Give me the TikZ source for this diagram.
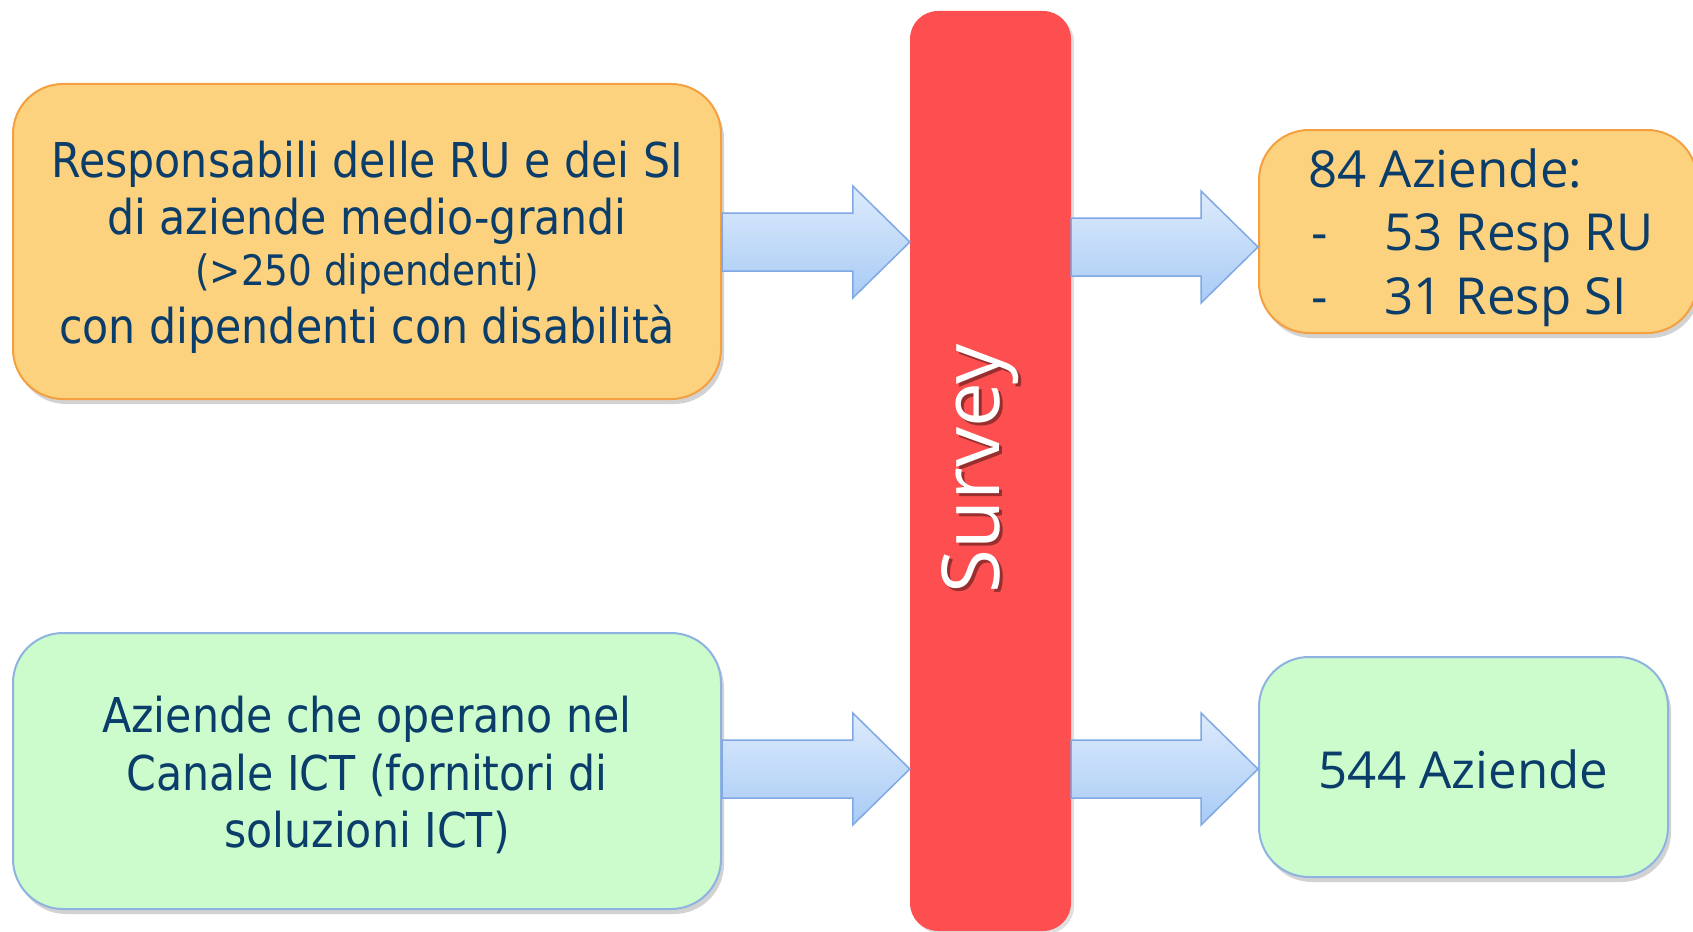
\documentclass[tikz,border=0pt]{standalone}
\usepackage{fontspec}
\usetikzlibrary{calc,shadows}
\newfontfamily\leftfont[FakeStretch=0.89]{DejaVu Sans}
\newfontfamily\rightfont{Open Sans}
\definecolor{txt}{HTML}{0B3D6B}
\definecolor{ofill}{HTML}{FCD27E}
\definecolor{oline}{HTML}{F5A040}
\definecolor{gfill}{HTML}{CCFCCC}
\definecolor{gline}{HTML}{8FB3E0}
\definecolor{rfill}{HTML}{FD4F4F}
\definecolor{atop}{HTML}{DDEBFC}
\definecolor{abot}{HTML}{A8CBF5}
\definecolor{aline}{HTML}{7FA8E4}
\tikzset{
  boxbase/.style={rectangle, rounded corners=50pt, line width=2pt, inner sep=0pt,
    drop shadow={opacity=0.35, shadow xshift=3pt, shadow yshift=-5pt}},
  obox/.style={boxbase, draw=oline, fill=ofill},
  gbox/.style={boxbase, draw=gline, fill=gfill},
  rbar/.style={rectangle, rounded corners=28pt, fill=rfill, inner sep=0pt,
    drop shadow={opacity=0.25, shadow xshift=3pt, shadow yshift=-3pt}},
  ltxt/.style={anchor=base, inner sep=0pt, text=txt, font=\leftfont\fontsize{48}{58}\selectfont},
  lsmall/.style={anchor=base, inner sep=0pt, text=txt, font=\leftfont\fontsize{42}{50}\selectfont},
  rtxt/.style={anchor=base west, inner sep=0pt, text=txt, font=\rightfont\fontsize{51}{62}\selectfont},
  blockarrow/.style={draw=aline, line width=1.5pt, top color=atop, bottom color=abot, line join=miter}
}
\newcommand{\blkarrow}[3]{% from node, tip coordinate, name
  \coordinate (#3u) at ($(#2)+(0,-29)$);
  \coordinate (#3d) at ($(#2)+(0,29)$);
  \path[blockarrow] (#3u -| #1.east) -- ($(#2)+(-57,-29)$) -- ($(#2)+(-57,-56)$)
    -- (#2) -- ($(#2)+(-57,56)$) -- ($(#2)+(-57,29)$) -- (#3d -| #1.east) -- cycle;
}
\begin{document}
\begin{tikzpicture}[x=1pt,y=-1pt]
\useasboundingbox (0,0) rectangle (1693,931);
\fill[white] (0,0) rectangle (1693,931);

% boxes
\node[obox, minimum width=708pt, minimum height=315pt] (L1) at (367,241.5) {};
\node[gbox, minimum width=708pt, minimum height=276pt] (L2) at (367,771) {};
\node[rbar, minimum width=161pt, minimum height=920pt] (S) at (990.5,471) {};
\node[obox, minimum width=438pt, minimum height=203pt] (R1) at (1478,231.5) {};
\node[gbox, minimum width=409pt, minimum height=220pt] (R2) at (1463.5,767) {};

% arrow tips
\coordinate (t1) at (S.west |- 0,242);
\coordinate (t2) at (S.west |- 0,769);
\coordinate (t3) at (R1.west |- 0,247);
\coordinate (t4) at (R2.west |- 0,769);
\blkarrow{L1}{t1}{a1}
\blkarrow{L2}{t2}{a2}
\blkarrow{S}{t3}{a3}
\blkarrow{S}{t4}{a4}

% left texts
\node[ltxt] (l1a) at (367,177) {Responsabili delle RU e dei SI};
\node[ltxt] (l1b) at (367,234) {di aziende medio-grandi};
\node[lsmall] (l1c) at (367,285) {(>250 dipendenti)};
\node[ltxt] (l1d) at (367,343) {con dipendenti con disabilità};

\node[ltxt] (l2a) at (367,732) {Aziende che operano nel};
\node[ltxt] (l2b) at (367,790) {Canale ICT (fornitori di};
\node[ltxt] (l2c) at (367,847) {soluzioni ICT)};

% right texts
\node[rtxt] (r1a) at (1308,187) {84 Aziende:};
\node[rtxt] (r1b) at (1311,250) {-};
\node[rtxt] (r1c) at (1384,250) {53 Resp RU};
\node[rtxt] (r1d) at (1311,314) {-};
\node[rtxt] (r1e) at (1384,314) {31 Resp SI};
\node[rtxt, anchor=base] (r2a) at (1463.5,788) {544 Aziende};

% survey
\node[rotate=90, anchor=base, inner sep=0pt, text=black, opacity=0.4,
  font=\rightfont\fontsize{80}{96}\selectfont] (svs) at (1002,472) {Survey};
\node[rotate=90, anchor=base, inner sep=0pt, text=white,
  font=\rightfont\fontsize{80}{96}\selectfont] (sv) at (999,469) {Survey};
\end{tikzpicture}
\end{document}
